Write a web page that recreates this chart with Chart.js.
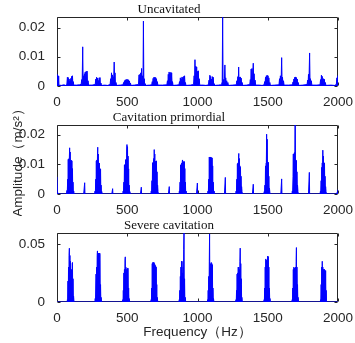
<!DOCTYPE html>
<html>
<head>
<meta charset="utf-8">
<script src="https://cdn.jsdelivr.net/npm/chart.js@4.4.1/dist/chart.umd.min.js"></script>
<style>
  body { margin: 0; background: #fff; }
  #wrap { position: relative; width: 355px; height: 343px; }
  canvas { position: absolute; left: 0; }
</style>
</head>
<body>
<div id="wrap">
  <canvas id="c1"></canvas>
  <canvas id="c2"></canvas>
  <canvas id="c3"></canvas>
</div>
<script>
// [frequency Hz, amplitude m/s^2]
const uncavitated = [
  [0,0.0041],[2,0.001],[4,0.0038],[6,0.0008],[8,0.0035],[10,0.001],[12,0.0034],[14,0.0005],[18,0.0003],
  [30,0.0002],[50,0.0004],[60,0.0002],
  [70,0.0005],[74,0.003],[77,0.0008],[80,0.0029],[83,0.0006],[86,0.0024],[89,0.0005],[92,0.0018],[95,0.0004],[98,0.0026],[101,0.0006],[104,0.0033],[107,0.0008],[110,0.0035],[113,0.0005],[116,0.0015],[119,0.0003],
  [140,0.0003],[160,0.0004],
  [172,0.0006],[176,0.0022],[179,0.0008],[183,0.0134],[186,0.001],[189,0.0035],[192,0.0008],[195,0.0042],[198,0.001],[201,0.0048],[204,0.0009],[208,0.005],[211,0.0007],[214,0.0051],[217,0.0006],[221,0.0018],[225,0.0003],
  [250,0.0003],
  [272,0.0005],[276,0.0024],[279,0.0006],[282,0.003],[285,0.0007],[288,0.0027],[291,0.0005],[294,0.0019],[297,0.0006],[300,0.0028],[303,0.0007],[306,0.0029],[309,0.0004],[313,0.001],[317,0.0002],
  [340,0.0003],[360,0.0002],
  [378,0.0005],[382,0.0025],[385,0.0007],[388,0.0045],[391,0.0008],[394,0.0038],[397,0.0007],[400,0.0032],[403,0.0009],[407,0.0082],[410,0.0012],[413,0.0045],[416,0.0004],[420,0.0012],[424,0.0002],
  [450,0.0003],
  [470,0.0004],[474,0.0012],[477,0.0004],[480,0.0018],[483,0.0006],[486,0.0021],[489,0.0007],[492,0.0022],[495,0.0008],[498,0.0023],[501,0.0007],[504,0.0022],[507,0.0006],[510,0.0021],[513,0.0005],[516,0.0017],[519,0.0004],[523,0.001],[527,0.0002],
  [550,0.0003],
  [580,0.0005],[584,0.0038],[587,0.0009],[590,0.004],[593,0.001],[596,0.0045],[599,0.0009],[602,0.006],[605,0.001],[609,0.0035],[612,0.0008],[615,0.0222],[618,0.001],[621,0.0025],[624,0.0004],[628,0.0008],[632,0.0002],
  [660,0.0003],
  [674,0.0004],[678,0.0015],[681,0.0005],[684,0.0026],[687,0.0007],[690,0.003],[693,0.0008],[696,0.003],[699,0.0007],[702,0.0029],[705,0.0006],[708,0.0025],[711,0.0005],[714,0.0015],[718,0.0003],
  [750,0.0003],
  [782,0.0004],[786,0.0018],[789,0.0006],[792,0.004],[795,0.0008],[798,0.0048],[801,0.0009],[804,0.0044],[807,0.0008],[810,0.0047],[813,0.0007],[816,0.0045],[819,0.0005],[822,0.0015],[826,0.0002],
  [850,0.0003],
  [868,0.0004],[872,0.0015],[875,0.0005],[878,0.0028],[881,0.0006],[884,0.0025],[887,0.0007],[890,0.0031],[893,0.0008],[896,0.0029],[899,0.0007],[902,0.0033],[905,0.0008],[908,0.0035],[911,0.0005],[914,0.0012],[918,0.0002],
  [950,0.0003],
  [972,0.0005],[976,0.0035],[979,0.0008],[982,0.009],[985,0.0012],[988,0.0068],[991,0.001],[994,0.0065],[997,0.0009],[1000,0.005],[1003,0.0008],[1006,0.0052],[1009,0.0006],[1012,0.0025],[1016,0.0003],
  [1040,0.0003],[1060,0.0002],
  [1078,0.0004],[1082,0.002],[1085,0.0006],[1088,0.0037],[1091,0.0007],[1094,0.0033],[1097,0.0006],[1100,0.0024],[1103,0.0007],[1106,0.0032],[1109,0.0006],[1112,0.003],[1115,0.0004],[1119,0.0008],[1123,0.0002],
  [1150,0.0003],[1165,0.0004],
  [1172,0.0006],[1176,0.0015],[1179,0.0236],[1182,0.001],[1185,0.0022],[1188,0.0007],[1192,0.0025],[1195,0.0072],[1198,0.0009],[1201,0.0028],[1204,0.0006],[1208,0.0018],[1212,0.0004],[1216,0.0012],[1220,0.0002],
  [1250,0.0003],
  [1276,0.0004],[1280,0.0018],[1283,0.0006],[1287,0.0032],[1290,0.0008],[1293,0.0065],[1296,0.0009],[1299,0.003],[1302,0.0007],[1305,0.0031],[1308,0.0006],[1311,0.0027],[1314,0.0005],[1318,0.0012],[1322,0.0002],
  [1350,0.0003],
  [1372,0.0005],[1376,0.0022],[1379,0.0007],[1382,0.0058],[1385,0.0009],[1388,0.006],[1391,0.0008],[1394,0.0048],[1397,0.0078],[1400,0.001],[1403,0.0042],[1406,0.0007],[1410,0.002],[1414,0.0003],
  [1440,0.0003],[1460,0.0002],
  [1474,0.0004],[1478,0.0015],[1481,0.0005],[1484,0.003],[1487,0.0008],[1490,0.0035],[1493,0.0009],[1496,0.0037],[1499,0.0008],[1502,0.0035],[1505,0.0007],[1508,0.0028],[1511,0.0005],[1515,0.0012],[1519,0.0002],
  [1550,0.0003],
  [1580,0.0004],[1584,0.0025],[1587,0.0006],[1590,0.0035],[1593,0.0009],[1596,0.0032],[1599,0.0097],[1602,0.001],[1605,0.003],[1608,0.0006],[1612,0.0018],[1616,0.0003],
  [1650,0.0003],
  [1676,0.0004],[1680,0.0014],[1683,0.0005],[1686,0.0024],[1689,0.0007],[1692,0.003],[1695,0.0008],[1698,0.0031],[1701,0.0008],[1704,0.0029],[1707,0.0006],[1710,0.0024],[1713,0.0005],[1717,0.0012],[1721,0.0002],
  [1750,0.0003],
  [1780,0.0005],[1784,0.002],[1787,0.0006],[1790,0.004],[1793,0.0008],[1798,0.0113],[1801,0.001],[1804,0.0025],[1807,0.0006],[1810,0.0018],[1814,0.0003],
  [1850,0.0003],
  [1872,0.0004],[1876,0.0022],[1879,0.0006],[1882,0.0037],[1885,0.0008],[1888,0.0033],[1891,0.0006],[1894,0.0018],[1897,0.0025],[1900,0.0006],[1903,0.0023],[1906,0.0005],[1910,0.0012],[1914,0.0002],
  [1950,0.0003],[1975,0.0002],
  [1988,0.0005],[1992,0.0028],[1995,0.0008],[1998,0.0035],[2000,0.0036]
];

const primordial = [
  [0,0.0058],[1,0.004],[3,0.0008],[6,0.0002],[20,0],[60,0],
  [68,0],[71,0.0012],[73,0.0002],[76,0.005],[78,0.0006],[80,0.0117],[82,0.0015],[84,0.0119],[86,0.002],[88,0.0125],[90,0.0156],[92,0.003],[94,0.0142],[96,0.002],[98,0.0113],[100,0.004],[102,0.0114],[104,0.002],[106,0.0112],[108,0.001],[110,0.0086],[112,0.0006],[114,0.004],[116,0.0003],[119,0.001],[122,0],
  [190,0],[197,0.0038],[199,0],
  [268,0],[271,0.001],[273,0.0002],[276,0.005],[278,0.0011],[280,0.0112],[282,0.002],[284,0.0115],[286,0.003],[288,0.0128],[290,0.0158],[292,0.003],[294,0.0135],[296,0.002],[298,0.0105],[300,0.003],[302,0.0104],[304,0.002],[306,0.0086],[308,0.001],[310,0.0084],[312,0.0006],[314,0.003],[316,0.0003],[319,0.0008],[322,0],
  [390,0],[396,0.0018],[398,0],
  [468,0],[471,0.001],[473,0.0002],[476,0.004],[478,0.0008],[480,0.0098],[482,0.0015],[484,0.01],[486,0.002],[488,0.0115],[490,0.003],[492,0.0118],[494,0.002],[496,0.0145],[498,0.0167],[500,0.004],[502,0.016],[504,0.003],[506,0.0128],[508,0.001],[510,0.0085],[512,0.0006],[514,0.003],[516,0.0002],[519,0.0008],[522,0],
  [594,0],[600,0.0023],[602,0],
  [668,0],[671,0.001],[673,0.0002],[676,0.0045],[678,0.0008],[680,0.0105],[682,0.0015],[684,0.0107],[686,0.002],[688,0.012],[690,0.003],[692,0.015],[694,0.004],[696,0.0135],[698,0.002],[700,0.011],[702,0.003],[704,0.0111],[706,0.002],[708,0.0112],[710,0.001],[712,0.0075],[714,0.0005],[716,0.003],[719,0.0008],[722,0],
  [793,0],[799,0.0025],[801,0],
  [868,0],[871,0.001],[873,0.0002],[876,0.004],[878,0.0008],[880,0.0098],[882,0.0015],[884,0.01],[886,0.002],[888,0.0105],[890,0.003],[892,0.0112],[894,0.0115],[896,0.003],[898,0.011],[900,0.002],[902,0.0108],[904,0.003],[906,0.011],[908,0.002],[910,0.0086],[912,0.0006],[914,0.004],[916,0.0003],[919,0.001],[922,0],
  [993,0],[999,0.0037],[1001,0],
  [1072,0],[1075,0.001],[1077,0.0002],[1080,0.005],[1082,0.0008],[1084,0.0125],[1086,0.002],[1088,0.0124],[1090,0.003],[1092,0.0125],[1094,0.002],[1096,0.0123],[1098,0.003],[1100,0.0123],[1102,0.002],[1104,0.0122],[1106,0.001],[1108,0.0095],[1110,0.0006],[1112,0.004],[1115,0.0003],[1118,0.001],[1121,0],
  [1192,0],[1198,0.0056],[1200,0],
  [1272,0],[1275,0.001],[1277,0.0002],[1280,0.005],[1282,0.0008],[1284,0.0102],[1286,0.0015],[1288,0.0105],[1290,0.002],[1292,0.012],[1294,0.0137],[1296,0.003],[1298,0.012],[1300,0.002],[1302,0.0095],[1304,0.002],[1306,0.009],[1308,0.001],[1310,0.006],[1312,0.0005],[1314,0.0025],[1317,0.0008],[1320,0],
  [1391,0],[1397,0.0033],[1399,0],
  [1472,0],[1475,0.0008],[1477,0.0002],[1480,0.003],[1482,0.0006],[1484,0.0095],[1486,0.001],[1488,0.0105],[1490,0.0106],[1492,0.0202],[1494,0.004],[1496,0.0185],[1498,0.003],[1500,0.0108],[1502,0.002],[1504,0.0107],[1506,0.001],[1508,0.006],[1510,0.0005],[1512,0.002],[1515,0.0006],[1518,0],
  [1593,0],[1599,0.0051],[1601,0],
  [1672,0],[1675,0.001],[1677,0.0002],[1680,0.006],[1682,0.0135],[1684,0.002],[1686,0.0136],[1688,0.003],[1690,0.014],[1692,0.004],[1694,0.0233],[1696,0.024],[1698,0.004],[1700,0.0115],[1702,0.002],[1704,0.0113],[1706,0.001],[1708,0.0075],[1710,0.0005],[1712,0.003],[1715,0.0008],[1718,0],
  [1790,0],[1796,0.0073],[1798,0],
  [1872,0],[1875,0.001],[1877,0.0002],[1880,0.0045],[1882,0.0008],[1884,0.009],[1886,0.0015],[1888,0.0105],[1890,0.002],[1892,0.0148],[1894,0.003],[1896,0.0128],[1898,0.002],[1900,0.0106],[1902,0.002],[1904,0.0104],[1906,0.001],[1908,0.006],[1910,0.0005],[1912,0.0025],[1915,0.0008],[1918,0],
  [1990,0],[1996,0.0008],[2000,0.0015]
];

const severe = [
  [0,0],[70,0],
  [72,0],[74,0.002],[76,0.0005],[78,0.018],[80,0.002],[82,0.03],[84,0.004],[86,0.04],[88,0.0462],[90,0.005],[92,0.04],[94,0.003],[96,0.035],[98,0.004],[100,0.027],[102,0.003],[104,0.028],[106,0.004],[108,0.033],[110,0.034],[112,0.003],[114,0.02],[116,0.001],[118,0.005],[121,0],
  [270,0],[272,0.003],[274,0.0005],[276,0.012],[278,0.024],[280,0.003],[282,0.03],[284,0.005],[286,0.04],[288,0.0439],[290,0.005],[292,0.041],[294,0.004],[296,0.042],[298,0.005],[300,0.042],[302,0.004],[304,0.042],[306,0.041],[308,0.003],[310,0.015],[312,0.001],[314,0.004],[317,0],
  [466,0],[468,0.002],[470,0.0005],[472,0.01],[474,0.002],[476,0.025],[478,0.004],[480,0.028],[482,0.005],[484,0.036],[486,0.0388],[488,0.005],[490,0.03],[492,0.004],[494,0.027],[496,0.028],[498,0.004],[500,0.029],[502,0.003],[504,0.029],[506,0.029],[508,0.002],[510,0.012],[512,0.001],[514,0.003],[517,0],
  [668,0],[670,0.002],[672,0.0005],[674,0.012],[676,0.002],[678,0.033],[680,0.004],[682,0.034],[684,0.005],[686,0.034],[688,0.004],[690,0.034],[692,0.005],[694,0.033],[696,0.004],[698,0.032],[700,0.004],[702,0.031],[704,0.003],[706,0.03],[708,0.002],[710,0.015],[712,0.001],[714,0.004],[717,0],
  [868,0],[870,0.002],[872,0.0005],[874,0.01],[876,0.002],[878,0.022],[880,0.004],[882,0.03],[884,0.005],[886,0.035],[888,0.005],[890,0.035],[892,0.004],[894,0.025],[896,0.005],[898,0.03],[900,0.006],[902,0.045],[904,0.0595],[906,0.004],[908,0.02],[910,0.001],[913,0.004],[916,0],
  [1070,0],[1072,0.002],[1074,0.0005],[1076,0.01],[1078,0.002],[1080,0.022],[1082,0.004],[1084,0.035],[1086,0.0585],[1088,0.005],[1090,0.03],[1092,0.004],[1094,0.033],[1096,0.005],[1098,0.034],[1100,0.004],[1102,0.033],[1104,0.003],[1106,0.032],[1108,0.002],[1110,0.012],[1112,0.001],[1114,0.003],[1117,0],
  [1272,0],[1274,0.002],[1276,0.0005],[1278,0.01],[1280,0.002],[1282,0.024],[1284,0.004],[1286,0.025],[1288,0.005],[1290,0.03],[1292,0.005],[1294,0.03],[1296,0.004],[1298,0.028],[1300,0.005],[1302,0.035],[1304,0.0463],[1306,0.004],[1308,0.033],[1310,0.003],[1312,0.02],[1314,0.001],[1316,0.004],[1319,0],
  [1472,0],[1474,0.002],[1476,0.0005],[1478,0.012],[1480,0.002],[1482,0.03],[1484,0.004],[1486,0.037],[1488,0.005],[1490,0.036],[1492,0.004],[1494,0.035],[1496,0.005],[1498,0.038],[1500,0.0395],[1502,0.005],[1504,0.039],[1506,0.004],[1508,0.03],[1510,0.002],[1512,0.012],[1514,0.001],[1516,0.003],[1519,0],
  [1672,0],[1674,0.002],[1676,0.0005],[1678,0.012],[1680,0.002],[1682,0.028],[1684,0.004],[1686,0.03],[1688,0.005],[1690,0.029],[1692,0.004],[1694,0.029],[1696,0.005],[1698,0.03],[1700,0.004],[1702,0.035],[1704,0.0468],[1706,0.005],[1708,0.03],[1710,0.003],[1712,0.015],[1714,0.001],[1716,0.004],[1719,0],
  [1874,0],[1876,0.002],[1878,0.0005],[1880,0.015],[1882,0.002],[1884,0.03],[1886,0.004],[1888,0.035],[1890,0.005],[1892,0.03],[1894,0.004],[1896,0.028],[1898,0.005],[1900,0.028],[1902,0.004],[1904,0.028],[1906,0.003],[1908,0.027],[1910,0.002],[1912,0.027],[1914,0.001],[1916,0.01],[1918,0.001],[1921,0],
  [2000,0]
];

const titles = ['Uncavitated', 'Cavitation primordial', 'Severe cavitation'];
const yMax = [0.0236, 0.0233, 0.0593];
const yStep = [0.01, 0.01, 0.05];
const xRange = [0, 2000];
const xStep = 500;
const yLabel = 'Amplitude（m/s²）';
const xLabel = 'Frequency（Hz）';

const INK = '#262626';
const SANS = "'Liberation Sans', Arial, sans-serif";
const TICK_FONT = { family: SANS, size: 13.5 };

// MATLAB style box with inward ticks on all four sides
const boxTicks = {
  id: 'boxTicks',
  beforeDatasetsDraw(chart) {
    const { ctx, chartArea: a, scales: { x, y } } = chart;
    const L = Math.round(a.left) + 0.5, R = Math.round(a.right) - 0.5;
    const T = Math.round(a.top) + 0.5, B = Math.round(a.bottom) - 0.5;
    ctx.save();
    ctx.strokeStyle = INK;
    ctx.lineWidth = 1;
    ctx.beginPath();
    ctx.rect(L, T, R - L, B - T);
    x.ticks.forEach(t => {
      const px = Math.round(x.getPixelForValue(t.value)) + 0.5;
      ctx.moveTo(px, B); ctx.lineTo(px, B - 3);
      ctx.moveTo(px, T); ctx.lineTo(px, T + 3);
    });
    y.ticks.forEach(t => {
      const py = Math.round(y.getPixelForValue(t.value)) + 0.5;
      ctx.moveTo(L, py); ctx.lineTo(L + 3, py);
      ctx.moveTo(R, py); ctx.lineTo(R - 3, py);
    });
    ctx.stroke();
    ctx.restore();
  }
};

const series = [uncavitated, primordial, severe];
const tops = [0, 108, 216];
const heights = [108, 108, 127];
const AREA_BOTTOM = 86;

series.forEach((pts, i) => {
  const canvas = document.getElementById('c' + (i + 1));
  canvas.width = 355;
  canvas.height = heights[i];
  canvas.style.top = tops[i] + 'px';
  const last = i === 2;

  new Chart(canvas.getContext('2d'), {
    type: 'line',
    data: {
      datasets: [{
        data: pts.map(([f, a]) => ({ x: f, y: a })),
        borderColor: '#0000ff',
        backgroundColor: '#0000ff',
        borderWidth: 1,
        // a solid "dash" keeps Chart.js off its per-pixel fast path so every spike is drawn
        borderDash: [1000, 0],
        pointRadius: 0,
        tension: 0,
        fill: 'origin'
      }]
    },
    options: {
      responsive: false,
      animation: false,
      devicePixelRatio: 1,
      layout: { padding: { left: 0, right: 17, top: 0, bottom: 0 } },
      plugins: {
        legend: { display: false },
        tooltip: { enabled: false },
        title: {
          display: true,
          text: titles[i],
          color: '#111',
          font: { family: "'Liberation Serif', 'Times New Roman', serif", size: 13, weight: 'normal', lineHeight: 1 },
          padding: { top: 3, bottom: 1 }
        }
      },
      scales: {
        x: {
          type: 'linear',
          min: xRange[0],
          max: xRange[1],
          grid: { display: false },
          border: { display: false },
          ticks: { stepSize: xStep, color: INK, font: TICK_FONT, padding: 0, maxRotation: 0, callback: v => String(v) },
          title: {
            display: last,
            text: xLabel,
            color: INK,
            font: TICK_FONT,
            padding: { top: 0, bottom: 3 }
          },
          afterFit: s => { s.height = heights[i] - AREA_BOTTOM; s.paddingLeft = 0; s.paddingRight = 0; }
        },
        y: {
          min: 0,
          max: yMax[i],
          grid: { display: false },
          border: { display: false },
          ticks: {
            stepSize: yStep[i],
            includeBounds: false,
            color: INK,
            font: TICK_FONT,
            padding: 4,
            callback: v => v === 0 ? '0' : String(+v.toFixed(4))
          },
          title: {
            display: i === 1,
            text: yLabel,
            color: INK,
            font: TICK_FONT,
            padding: { top: 10, bottom: 0 }
          },
          afterFit: s => { s.width = 57; s.paddingTop = 0; s.paddingBottom = 0; }
        }
      }
    },
    plugins: [boxTicks]
  });
});
</script>
</body>
</html>
